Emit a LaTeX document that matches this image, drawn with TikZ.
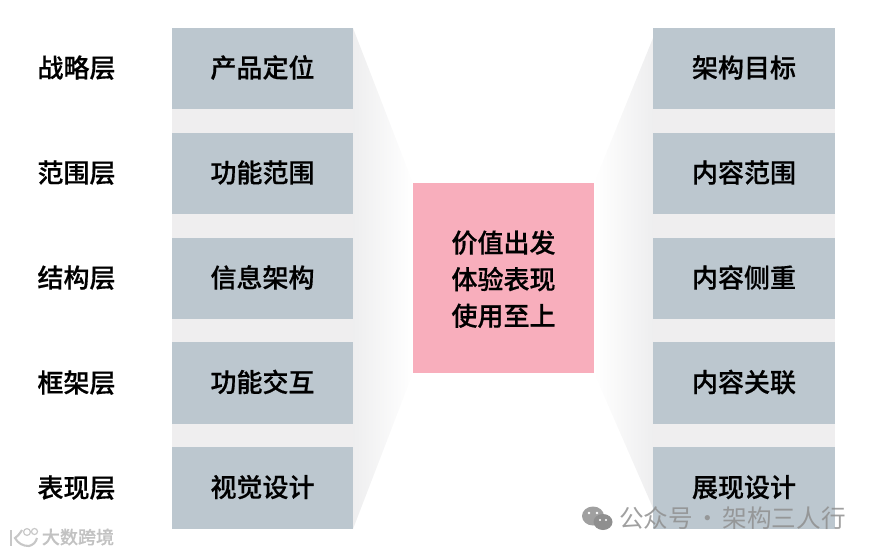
\documentclass[tikz,border=0pt]{standalone}
\usepackage{fontspec}
\setmainfont{Noto Sans CJK SC}[BoldFont={Noto Sans CJK SC Medium},BoldFeatures={FakeBold=.5}]
\definecolor{boxgray}{HTML}{BCC7CF}
\definecolor{gapgray}{HTML}{EFEEEF}
\definecolor{fadegray}{HTML}{EEEEEF}
\definecolor{valuepink}{HTML}{F8AEBC}
\definecolor{markgray}{HTML}{8F8F8F}
\tikzset{
  layerlabel/.style={font=\fontsize{22.2}{26}\selectfont\bfseries,text=black,text height=20pt,text depth=4.8pt},
  itembox/.style={fill=boxgray,minimum width=5.43cm,minimum height=2.44cm,inner sep=0pt,layerlabel},
  gapbar/.style={fill=gapgray,draw=none},
}
\begin{document}
\begin{tikzpicture}[x=.03cm,y=-.03cm]
\useasboundingbox (0,0) rectangle (872,554);
% funnels
\shade[left color=fadegray,right color=white] (353,28)--(413,183)--(413,373)--(353,529)--cycle;
\shade[left color=white,right color=fadegray] (653,38)--(594,183)--(594,373)--(653,508)--cycle;
% gaps
\fill[gapbar] (172,109) rectangle (353,133);
\fill[gapbar] (172,214) rectangle (353,238);
\fill[gapbar] (172,319) rectangle (353,342);
\fill[gapbar] (172,424) rectangle (353,447);
\fill[gapbar] (653,109) rectangle (835,133);
\fill[gapbar] (653,214) rectangle (835,238);
\fill[gapbar] (653,319) rectangle (835,342);
\fill[gapbar] (653,424) rectangle (835,447);

\node[layerlabel] (strategy) at (76.5,68.5){战略层};
\node[layerlabel] (scope) at (76.5,173.5){范围层};
\node[layerlabel] (structure) at (76.5,278.5){结构层};
\node[layerlabel] (skeleton) at (76.5,383.5){框架层};
\node[layerlabel] (surface) at (76.5,488.5){表现层};

\node[itembox] (position) at (262.5,68.5){产品定位};
\node[itembox] (function) at (262.5,173.5){功能范围};
\node[itembox] (info) at (262.5,278.5){信息架构};
\node[itembox] (interact) at (262.5,383){功能交互};
\node[itembox] (visual) at (262.5,488){视觉设计};

\node[fill=valuepink,minimum width=5.43cm,minimum height=5.7cm,inner sep=0pt,align=center,text depth=0pt,
  font=\fontsize{22.2}{31.2}\selectfont\bfseries] (value) at (503.5,278){价值出发\\体验表现\\使用至上};

\node[itembox,minimum width=5.46cm] (target) at (744,68.5){架构目标};
\node[itembox,minimum width=5.46cm] (content) at (744,173.5){内容范围};
\node[itembox,minimum width=5.46cm] (focus) at (744,278.5){内容侧重};
\node[itembox,minimum width=5.46cm] (relation) at (744,383){内容关联};
\node[itembox,minimum width=5.46cm] (show) at (744,488){展现设计};

% watermarks
\node[text=markgray,opacity=.85,font=\fontsize{21}{24}\selectfont,inner sep=0pt] (account) at (732.5,518.5){公众号\hspace{-2.5pt} · \hspace{-2.5pt}架构三人行};
\fill[markgray,opacity=.85] (593,516) ellipse [x radius=11, y radius=9.5];
\fill[markgray] (603,522) ellipse [x radius=9.5, y radius=8];
\fill[white] (589,513) circle (1.4) (597,513) circle (1.4) (600,520) circle (1.1) (606,520) circle (1.1);

\node[text=black!24,font=\fontsize{15.4}{18}\selectfont\bfseries,inner sep=0pt] (crossborder) at (78,537){大数跨境};
\draw[black!22,line width=1.8pt] (11,530)--(11,546);
\draw[black!22,line width=1.8pt] (22,530) to[bend left=10] (15,538) to[bend right=30] (29,546) to[bend right=30] (37,538);
\draw[black!22,line width=1pt] (27,532) circle (3.4) (34.5,531.5) circle (3);
\end{tikzpicture}
\end{document}
